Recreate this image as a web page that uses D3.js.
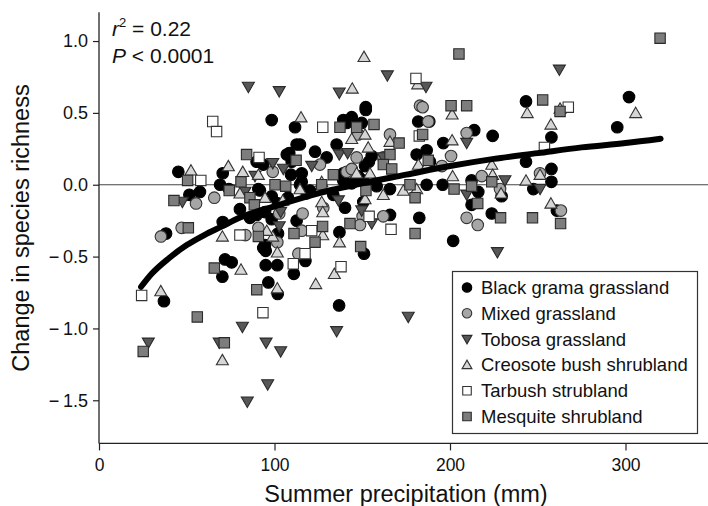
<!DOCTYPE html>
<html><head><meta charset="utf-8">
<script src="https://cdn.jsdelivr.net/npm/d3@7"></script>
<style>
html,body{margin:0;padding:0;background:#fff;}
svg{display:block;font-family:"Liberation Sans",Arial,Helvetica,sans-serif;}
</style></head>
<body><svg id="c" width="708" height="506"></svg>
<script>
// ---- data: [summer precipitation (mm), change in species richness] ----
const blackGrama = [[37,-0.81],[96.5,-0.68],[101.8,-0.76],[111,-0.62],[95,-0.56],[101.6,-0.56],[95,-0.46],[94.6,-0.42],[71.8,-0.52],[75.6,-0.54],[70.3,-0.64],[102,-0.34],[38.2,-0.34],[98.4,0.45],[111.7,0.40],[45.2,0.09],[69,0.00],[70.5,0.08],[93.6,0.14],[108.4,0.22],[109.4,0.07],[90.8,-0.03],[51.5,-0.07],[57.5,-0.05],[80.3,-0.17],[70.5,-0.26],[93.6,-0.44],[89.8,0.16],[107,0.21],[112.6,0.28],[91.7,-0.04],[89.8,-0.21],[86,-0.23],[98.4,-0.24],[112.6,-0.25],[141.1,0.43],[149.7,0.43],[181.9,0.44],[188.2,0.44],[114.5,0.28],[123.1,0.23],[135.4,0.28],[129.7,0.19],[155.4,0.20],[181,0.21],[186.7,0.24],[196.2,0.29],[115.5,0.08],[115.5,0.02],[120.2,-0.04],[186.7,0.00],[195.8,0.00],[182.5,-0.23],[137,-0.33],[150.6,-0.12],[140.2,-0.16],[152,0.54],[152,0.52],[144,0.47],[139.2,0.45],[213.8,0.38],[224.3,0.34],[212.3,0.03],[216.1,-0.05],[212.3,-0.14],[223.8,-0.20],[201.8,-0.39],[188.6,0.16],[153.8,0.16],[151.6,0.13],[114.5,0.00],[118.3,-0.06],[165.8,-0.21],[243.3,0.58],[257.8,0.33],[302,0.61],[295.3,0.40],[243.3,0.16],[257.8,0.11],[257.8,0.02],[247.5,-0.03],[229.4,-0.08],[260.9,-0.18],[136.8,-0.84],[117.6,-0.53],[151,-0.48],[109.8,0.16],[74,-0.03],[139.2,0.03],[150.6,0.03],[158.2,-0.01],[165.8,-0.03],[133.5,-0.07],[144,0.01],[107.7,-0.09],[102,-0.13],[98.4,-0.08],[94.6,-0.19],[147.7,0.06],[139.2,0.08]];
const mixedGrass = [[101.6,-0.40],[113.6,-0.48],[83.4,-0.35],[35.3,-0.36],[47.1,-0.30],[99,0.09],[55.3,-0.13],[65.7,-0.09],[90.8,-0.30],[147.7,0.35],[165.8,0.35],[125.9,0.14],[146.8,0.19],[162,0.19],[195.4,0.13],[141.1,0.09],[144,0.11],[150.2,-0.22],[162,-0.22],[148.7,-0.28],[127.8,-0.16],[115.5,-0.32],[182.9,0.55],[184.4,0.54],[187.6,0.44],[209.5,0.36],[200.6,0.20],[218.1,0.06],[209.5,-0.23],[215.8,-0.28],[116,-0.20],[251.3,0.08],[228.5,-0.03],[263.2,-0.18],[102.7,-0.20]];
const tobosa = [[81.7,-0.99],[28.1,-1.10],[68.5,-1.10],[95.2,-1.10],[103.5,-1.16],[96.1,-1.39],[84.5,-1.51],[85.1,0.68],[102.7,0.65],[88.9,0.06],[99,0.15],[47.5,-0.12],[102.7,-0.29],[83.2,-0.05],[103.5,-0.19],[121.2,0.13],[136.9,0.21],[141.7,0.22],[155.4,-0.27],[149.7,-0.18],[164.3,0.76],[136.9,0.64],[186.3,0.68],[209.5,0.29],[209.5,-0.07],[162,0.19],[262.3,0.80],[231.3,0.03],[251.3,-0.03],[227,-0.47],[135.4,-1.02],[176.2,-0.92],[105,0.11],[136.4,-0.11]];
const creosote = [[35.2,-0.74],[70.3,-1.22],[101.6,-0.72],[101.6,-0.47],[80.9,-0.59],[70.3,-0.36],[99,-0.36],[52.4,0.10],[73.7,0.13],[81.9,0.09],[90.8,0.07],[80.3,-0.06],[94.6,-0.09],[144,0.32],[151.6,0.35],[153.4,0.26],[165.8,0.30],[182,0.14],[186.7,0.13],[146.8,0.08],[154.4,0.08],[114.5,-0.03],[151.6,-0.10],[173.4,-0.04],[181,-0.03],[137,-0.40],[126.9,-0.12],[127.5,-0.19],[127.5,-0.35],[162,-0.07],[151,0.89],[144.3,0.67],[181.6,0.70],[201.2,0.49],[115.1,0.47],[201.2,0.31],[223.8,0.14],[201.5,0.06],[224.3,0.07],[244,0.50],[262.7,0.53],[257.5,0.42],[305.8,0.50],[243.3,0.03],[251.3,0.07],[229.1,-0.06],[257.5,-0.13],[123.5,-0.69],[134.1,-0.62],[104.7,-0.11],[126.9,0.02],[95.6,-0.32]];
const tarbush = [[24.3,-0.77],[93.4,-0.89],[110.7,-0.55],[80.3,-0.35],[64.8,0.44],[67,0.37],[91.2,0.19],[58,0.03],[127.5,0.40],[182.5,0.34],[166.4,-0.31],[121.2,-0.32],[180.6,0.74],[267.4,0.54],[253.8,0.26],[137.9,-0.57],[117.4,-0.48],[153.9,-0.22]];
const mesquite = [[25.2,-1.16],[56,-0.92],[71.4,-1.10],[89.9,-0.73],[65.7,-0.58],[90.8,-0.36],[111.1,-0.34],[50.9,-0.30],[84.1,0.21],[50.5,0.03],[80.9,0.02],[100.3,0.00],[106.4,-0.01],[74.2,-0.04],[86,-0.09],[42.7,-0.11],[88.5,-0.14],[137.3,0.40],[146.8,0.40],[156.7,0.42],[184.4,0.35],[171,0.29],[112.3,0.17],[165.8,0.21],[162,0.14],[166.8,0.11],[187.6,0.17],[133.5,0.07],[126.9,0.00],[152.1,-0.04],[177.2,0.00],[180.1,-0.09],[180.1,-0.34],[143,-0.27],[127.4,-0.29],[205.1,0.91],[200.6,0.55],[209.5,0.55],[202.3,-0.03],[212.3,-0.01],[223.8,0.02],[215.8,-0.13],[319.7,1.02],[252.8,0.59],[262.7,0.51],[228.8,-0.23],[247,-0.23],[263,-0.27],[123.1,-0.40],[149.1,-0.43]];
// fitted curve
const fitX = [24,30,40,50,60,70,80,100,125,150,175,200,225,250,275,300,320];
const fitY = [-0.71,-0.62,-0.51,-0.42,-0.35,-0.29,-0.23,-0.15,-0.06,0.01,0.07,0.13,0.18,0.22,0.26,0.29,0.32];
const xTicks = [0,100,200,300];
const yTicks = [-1.5,-1.0,-0.5,0.0,0.5,1.0];
const seriesNames = ["Black grama grassland","Mixed grassland","Tobosa grassland","Creosote bush shrubland","Tarbush strubland","Mesquite shrubland"];

// ---- styles ----
const styles = [
  {shape:"circle", fill:"#000", stroke:"#000"},
  {shape:"circle", fill:"#a6a6a6", stroke:"#333"},
  {shape:"down", fill:"#575757", stroke:"#2a2a2a"},
  {shape:"up", fill:"#d6d6d6", stroke:"#333"},
  {shape:"square", fill:"#fff", stroke:"#333"},
  {shape:"square", fill:"#7d7d7d", stroke:"#2a2a2a"}
];
const allSeries = [blackGrama, mixedGrass, tobosa, creosote, tarbush, mesquite];

const svg = d3.select("#c");
const x = d3.scaleLinear().domain([0,350]).range([99, 713.25]);
const y = d3.scaleLinear().domain([-1.8,1.2]).range([443.4, 12.3]);

function shapePath(shape, s){
  if(shape==="circle") return d3.symbol(d3.symbolCircle, Math.PI*(5.8*s)*(5.8*s))();
  if(shape==="square"){ const h=5.2*s; return `M${-h},${-h}H${h}V${h}H${-h}Z`; }
  const w=6*s, hh=5.2*s;
  if(shape==="up") return `M0,${-hh-0.5}L${w},${hh-0.5}L${-w},${hh-0.5}Z`;
  return `M0,${hh+0.5}L${w},${-hh+0.5}L${-w},${-hh+0.5}Z`;
}

// zero line
svg.append("line").attr("x1",x(0)).attr("x2",708).attr("y1",y(0)).attr("y2",y(0))
  .attr("stroke","#444").attr("stroke-width",1.2);

// points
allSeries.forEach((ser,i)=>{
  const st=styles[i];
  svg.append("g").selectAll("path").data(ser).join("path")
    .attr("d",shapePath(st.shape,1))
    .attr("transform",d=>`translate(${x(d[0])},${y(d[1])})`)
    .attr("fill",st.fill).attr("stroke",st.stroke).attr("stroke-width",1.1);
});

// fit curve
const fit = fitX.map((v,i)=>[v,fitY[i]]);
svg.append("path").datum(fit)
  .attr("d", d3.line().x(d=>x(d[0])).y(d=>y(d[1])).curve(d3.curveMonotoneX))
  .attr("fill","none").attr("stroke","#000").attr("stroke-width",6).attr("stroke-linecap","round");

// axes
const fmt = d=> d<0 ? "\u2212\u2009"+d3.format(".1f")(-d) : d3.format(".1f")(d);
const yAx = svg.append("g").attr("transform","translate(99,0)")
  .call(d3.axisLeft(y).tickValues(yTicks).tickFormat(fmt).tickSize(6).tickSizeOuter(0).tickPadding(5));
yAx.select(".domain").remove();
yAx.selectAll("text").attr("font-size",18).attr("font-family","Liberation Sans, Arial, sans-serif").attr("fill","#111");
yAx.selectAll("line").attr("stroke","#222").attr("stroke-width",1.2);
svg.append("line").attr("x1",99).attr("x2",99).attr("y1",y(1.2)).attr("y2",y(-1.8)).attr("stroke","#222").attr("stroke-width",1.3);

const xAx = svg.append("g").attr("transform",`translate(0,${y(-1.8)})`)
  .call(d3.axisBottom(x).tickValues(xTicks).tickFormat(d3.format("d")).tickSize(7).tickSizeOuter(0).tickPadding(8));
xAx.select(".domain").remove();
xAx.selectAll("text").attr("font-size",17.5).attr("font-family","Liberation Sans, Arial, sans-serif").attr("fill","#111");
xAx.selectAll("line").attr("stroke","#222").attr("stroke-width",1.2);
svg.append("line").attr("x1",99).attr("x2",708).attr("y1",y(-1.8)).attr("y2",y(-1.8)).attr("stroke","#222").attr("stroke-width",1.3);

// axis titles
svg.append("text").attr("x",406).attr("y",502).attr("text-anchor","middle")
  .attr("font-size",23.5).attr("fill","#111").text("Summer precipitation (mm)");
svg.append("text").attr("transform","translate(29,228) rotate(-90)").attr("text-anchor","middle")
  .attr("font-size",23.5).attr("fill","#111").text("Change in species richness");

// stats annotation
const t1 = svg.append("text").attr("x",112).attr("y",36).attr("font-size",21).attr("fill","#111");
t1.append("tspan").attr("font-style","italic").text("r");
t1.append("tspan").attr("font-size",13).attr("dy",-9).text("2");
t1.append("tspan").attr("dy",9).text(" = 0.22");
const t2 = svg.append("text").attr("x",112).attr("y",63).attr("font-size",21).attr("fill","#111");
t2.append("tspan").attr("font-style","italic").text("P");
t2.append("tspan").text(" < 0.0001");

// legend
const lg = svg.append("g");
lg.append("rect").attr("x",452.5).attr("y",271.5).attr("width",245).attr("height",162)
  .attr("fill","#fff").attr("stroke","#333").attr("stroke-width",1.2);
seriesNames.forEach((n,i)=>{
  const cy = 287.5 + i*25.8;
  lg.append("path").attr("d",shapePath(styles[i].shape,0.82)).attr("transform",`translate(467,${cy})`)
    .attr("fill",styles[i].fill).attr("stroke",styles[i].stroke).attr("stroke-width",1.1);
  lg.append("text").attr("x",481).attr("y",cy+6.5).attr("font-size",18.5).attr("fill","#111").text(n);
});
</script></body></html>
